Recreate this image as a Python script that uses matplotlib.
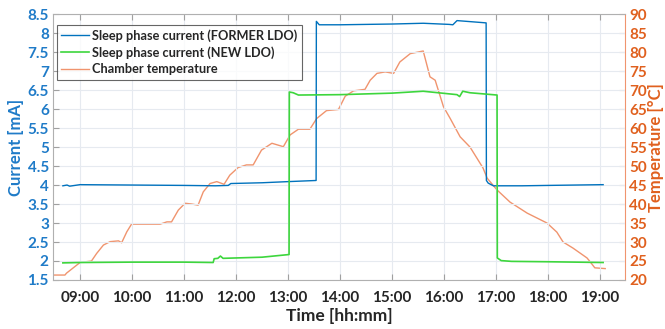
import matplotlib
matplotlib.use("Agg")
import matplotlib.pyplot as plt
from matplotlib.ticker import FixedLocator, FuncFormatter

# Data (time in hours of day)
former_t = [8.67, 8.75, 8.80, 9.0, 10.0, 11.0, 11.6, 11.85, 11.9, 12.5, 13.0, 13.54, 13.545, 13.6, 14.0, 15.0, 15.6, 16.1, 16.17, 16.25, 16.81, 16.815, 16.85, 16.95, 17.5, 18.0, 19.06]
former_i = [3.98, 4.00, 3.97, 4.01, 4.00, 3.99, 3.98, 3.99, 4.04, 4.06, 4.09, 4.12, 8.31, 8.22, 8.22, 8.24, 8.26, 8.23, 8.22, 8.33, 8.27, 4.12, 4.05, 3.98, 3.98, 3.99, 4.01]

new_t = [8.67, 9.0, 10.0, 11.0, 11.56, 11.58, 11.65, 11.70, 11.75, 12.0, 12.5, 13.02, 13.025, 13.1, 13.2, 14.0, 15.0, 15.6, 16.25, 16.3, 16.36, 16.5, 17.02, 17.025, 17.1, 17.3, 18.0, 19.06]
new_i = [1.95, 1.96, 1.97, 1.97, 1.96, 2.06, 2.07, 2.13, 2.07, 2.08, 2.10, 2.17, 6.45, 6.43, 6.37, 6.38, 6.42, 6.47, 6.38, 6.33, 6.47, 6.43, 6.37, 2.08, 2.01, 1.99, 1.98, 1.96]

temp_t = [8.48, 8.71, 8.74, 9.0, 9.22, 9.32, 9.45, 9.58, 9.74, 9.80, 9.90, 9.99, 10.54, 10.67, 10.76, 10.89, 11.02, 11.15, 11.27, 11.37, 11.50, 11.63, 11.77, 11.88, 12.04, 12.20, 12.33, 12.49, 12.69, 12.91, 13.04, 13.20, 13.42, 13.55, 13.74, 13.97, 14.10, 14.26, 14.48, 14.58, 14.71, 14.87, 15.03, 15.15, 15.35, 15.60, 15.73, 15.83, 15.99, 16.12, 16.31, 16.50, 16.75, 16.83, 17.02, 17.27, 17.60, 17.98, 18.17, 18.29, 18.48, 18.75, 18.81, 18.90, 19.10]
temp_c = [21.3, 21.3, 21.8, 24.6, 25.0, 27.0, 29.2, 30.1, 30.3, 29.8, 32.7, 34.7, 34.7, 35.3, 35.3, 38.4, 40.2, 40.0, 39.7, 43.2, 45.4, 45.9, 45.2, 47.6, 49.6, 50.3, 50.3, 54.2, 56.0, 55.1, 58.2, 59.7, 59.7, 62.5, 64.6, 64.9, 68.4, 69.8, 70.2, 72.6, 74.4, 74.8, 74.4, 77.4, 79.6, 80.3, 73.5, 72.6, 65.6, 62.5, 57.7, 55.0, 49.5, 46.8, 43.7, 40.5, 37.6, 35.0, 32.6, 30.0, 28.4, 25.8, 24.8, 23.2, 23.0]

hour_ticks = [9, 10, 11, 12, 13, 14, 15, 16, 17, 18, 19]
left_ticks = [1.5, 2, 2.5, 3, 3.5, 4, 4.5, 5, 5.5, 6, 6.5, 7, 7.5, 8, 8.5]
right_ticks = [20, 25, 30, 35, 40, 45, 50, 55, 60, 65, 70, 75, 80, 85, 90]

BLUE = "#0072BD"
GREEN = "#3DD63D"
ORANGE_LINE = "#F0946E"
ORANGE = "#E0601E"
BLUE_TXT = "#1F7BC8"

plt.rcParams['font.family'] = ['Lato', 'DejaVu Sans']
plt.rcParams['font.weight'] = 'bold'

fig = plt.figure(figsize=(6.65, 3.29), dpi=100)
ax = fig.add_axes([0.0797, 0.149, 0.8601, 0.808])
ax2 = ax.twinx()

l1, = ax.plot(former_t, former_i, color=BLUE, lw=1.0, label="Sleep phase current (FORMER LDO)")
l2, = ax.plot(new_t, new_i, color=GREEN, lw=1.2, label="Sleep phase current (NEW LDO)")
l3, = ax2.plot(temp_t, temp_c, color=ORANGE_LINE, lw=1.0, label="Chamber temperature")

ax.set_xlim(8.48, 19.48)
ax.set_ylim(1.5, 8.5)
ax2.set_ylim(20, 90)
ax.xaxis.set_major_locator(FixedLocator(hour_ticks))
ax.xaxis.set_major_formatter(FuncFormatter(lambda v, p: "%02d:00" % int(round(v))))
ax.yaxis.set_major_locator(FixedLocator(left_ticks))
ax.yaxis.set_major_formatter(FuncFormatter(lambda v, p: ("%g" % v)))
ax2.yaxis.set_major_locator(FixedLocator(right_ticks))

ax.grid(True, color="#E6EAF0", lw=0.8)
ax.set_axisbelow(True)

ax.tick_params(axis='x', direction='in', length=4, colors="#262626", labelsize=11, pad=8, top=True, color="#A0A0A0")
ax.tick_params(axis='y', direction='in', length=4, labelcolor=BLUE_TXT, labelsize=11, color="#A0A0A0", pad=3)
ax2.tick_params(axis='y', direction='in', length=4, labelcolor=ORANGE, labelsize=11, color=ORANGE_LINE, pad=3)

for s in ['top', 'bottom', 'left']:
    ax.spines[s].set_color("#B0B0B0")
ax2.spines['right'].set_color(ORANGE_LINE)
ax2.spines['left'].set_visible(False)
ax2.spines['top'].set_visible(False)
ax2.spines['bottom'].set_visible(False)
ax.spines['right'].set_visible(False)

ax.set_xlabel("Time [hh:mm]", fontsize=12.5, fontweight='bold', color="#262626", labelpad=2)
ax.set_ylabel("Current [mA]", fontsize=12, fontweight='bold', color=BLUE_TXT)
ax2.set_ylabel("Temperature [°C]", fontsize=12, fontweight='bold', color=ORANGE)
ax.yaxis.set_label_coords(-0.05, 0.5)
ax2.yaxis.set_label_coords(1.04, 0.5)

leg = ax.legend(handles=[l1, l2, l3], loc='upper left', bbox_to_anchor=(0.0, 0.975),
                fontsize=9.2, frameon=True, fancybox=False, edgecolor="#404040",
                handlelength=2.2, borderpad=0.35, labelspacing=0.35, handletextpad=0.2, borderaxespad=0.3)
leg.get_frame().set_linewidth(0.8)
for t in leg.get_texts():
    t.set_color("#262626")
ax2.set_zorder(1)
ax.set_zorder(2)
ax.patch.set_visible(False)

fig.savefig("out.png", dpi=100)
